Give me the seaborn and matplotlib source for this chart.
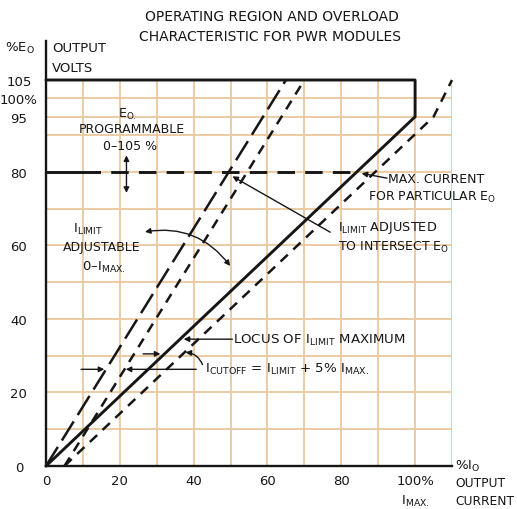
import matplotlib
matplotlib.use("Agg")
import matplotlib.pyplot as plt
import seaborn as sns

# operating region: top at 105 %, right edge at 100 % I_MAX, then locus of I_LIMIT maximum to origin
region_i = [0, 100, 100, 0]
region_e = [105, 105, 95, 0]

# I_LIMIT adjusted to intersect E0 = 80 % (long dash) and its cutoff (+5 % I_MAX, short dash)
limit_adj_i = [0, 65]
limit_adj_e = [0, 105]
cutoff_adj_i = [5, 70]
cutoff_adj_e = [0, 105]

# cutoff line belonging to the I_LIMIT maximum locus
cutoff_max_i = [5, 105, 110]
cutoff_max_e = [0, 95, 105]

# programmed output voltage E0 = 80 %
e0_solid_i = [0, 10]
e0_dash_i = [10, 84]
e0_e = [80, 80]

x_ticks = [0, 20, 40, 60, 80, 100]
x_labels = ["0", "20", "40", "60", "80", "100%"]
y_ticks = [0, 20, 40, 60, 80, 95, 100, 105]
y_labels = ["0", "20", "40", "60", "80", "95", "100%", "105"]
grid_x = [10, 20, 30, 40, 50, 60, 70, 80, 90, 100, 110]
grid_y = [10, 20, 30, 40, 50, 60, 70, 80, 90, 95, 100]

INK = "#161616"
GRID = "#ebc79c"

sns.set_style("white")
plt.rcParams["font.family"] = ["DejaVu Sans"]
plt.rcParams["mathtext.default"] = "regular"

fig = plt.figure(figsize=(5.17, 5.10), dpi=100)
ax = fig.add_axes([46 / 517, 43 / 510, 406 / 517, 386 / 510])
ax.set_xlim(0, 110)
ax.set_ylim(0, 105)

# graph paper grid
for gx in grid_x:
    ax.axvline(gx, color=GRID, lw=1.3, zorder=0)
for gy in grid_y:
    ax.axhline(gy, color=GRID, lw=1.3, zorder=0)

# curves
sns.lineplot(x=region_i, y=region_e, sort=False, estimator=None, color=INK, lw=2.1,
             clip_on=False, ax=ax)
sns.lineplot(x=limit_adj_i, y=limit_adj_e, sort=False, estimator=None, color=INK, lw=1.8,
             linestyle=(0, (9, 3)), ax=ax)
sns.lineplot(x=cutoff_adj_i, y=cutoff_adj_e, sort=False, estimator=None, color=INK, lw=1.8,
             linestyle=(0, (4, 3)), ax=ax)
sns.lineplot(x=cutoff_max_i, y=cutoff_max_e, sort=False, estimator=None, color=INK, lw=1.8,
             linestyle=(0, (4, 3)), clip_on=False, ax=ax)
sns.lineplot(x=e0_solid_i, y=e0_e, sort=False, estimator=None, color=INK, lw=2.1, ax=ax)
sns.lineplot(x=e0_dash_i, y=e0_e, sort=False, estimator=None, color=INK, lw=2.1,
             linestyle=(0, (6, 3.5)), ax=ax)

# axes
sns.despine(ax=ax, top=True, right=True)
ax.spines["left"].set_linewidth(1.7)
ax.spines["bottom"].set_linewidth(1.7)
ax.spines["left"].set_color(INK)
ax.spines["bottom"].set_color(INK)
ax.spines["left"].set_bounds(0, 115.5)

ax.set_xticks(x_ticks, x_labels)
ax.set_yticks(y_ticks, y_labels)
ax.tick_params(which="both", length=0, labelsize=9.5, colors=INK)
ax.tick_params(axis="x", pad=6)
ax.tick_params(axis="y", pad=19.5)
for lab in ax.get_yticklabels():
    lab.set_horizontalalignment("center")

fs = 9
arrow = dict(arrowstyle="-|>", color=INK, lw=1.0, mutation_scale=8, shrinkA=0, shrinkB=0)
arrow2 = dict(arrowstyle="<|-|>", color=INK, lw=1.0, mutation_scale=8, shrinkA=0, shrinkB=0)

# E0 programmable
ax.text(22, 95.8, "E$_{O.}$", ha="center", va="center", fontsize=fs, color=INK)
ax.text(23.3, 91.7, "PROGRAMMABLE", ha="center", va="center", fontsize=fs, color=INK)
ax.text(22.8, 87.2, "0\u2013105 %", ha="center", va="center", fontsize=fs, color=INK)
ax.annotate("", xy=(21.8, 84.5), xytext=(21.8, 74.3), arrowprops=arrow2)

# I_LIMIT adjustable
ax.text(11.4, 64.5, "I$_{LIMIT}$", ha="center", va="center", fontsize=9.5, color=INK)
ax.text(15.1, 59.6, "ADJUSTABLE", ha="center", va="center", fontsize=fs, color=INK)
ax.text(15.7, 54.3, "0\u2013I$_{MAX.}$", ha="center", va="center", fontsize=9.5, color=INK)
ax.annotate("", xy=(49.9, 54.4), xytext=(26.8, 63.7),
            arrowprops=dict(arrow2, connectionstyle="arc3,rad=-0.3"))

# max current for particular E0
ax.text(92.7, 78.3, "MAX. CURRENT", ha="left", va="center", fontsize=fs, color=INK)
ax.text(87.3, 73.2, "FOR PARTICULAR E$_O$", ha="left", va="center", fontsize=fs, color=INK)
ax.annotate("", xy=(85.5, 79.6), xytext=(92.4, 78.3), arrowprops=arrow)

# I_LIMIT adjusted to intersect E0
ax.text(79.1, 65.0, "I$_{LIMIT}$ ADJUSTED", ha="left", va="center", fontsize=9.3, color=INK)
ax.text(79.1, 59.6, "TO INTERSECT E$_O$", ha="left", va="center", fontsize=fs, color=INK)
ax.annotate("", xy=(50.5, 78.8), xytext=(77, 63.6), arrowprops=arrow)

# locus of I_LIMIT maximum
ax.text(50.8, 34.5, "LOCUS OF I$_{LIMIT}$ MAXIMUM", ha="left", va="center", fontsize=9.6,
        color=INK)
ax.annotate("", xy=(37.3, 34.5), xytext=(50.5, 34.5), arrowprops=arrow)

# cutoff relation
ax.text(43.2, 26.4, "I$_{CUTOFF}$ = I$_{LIMIT}$ + 5% I$_{MAX.}$", ha="left", va="center",
        fontsize=9.6, color=INK)
ax.annotate("", xy=(21.6, 26.3), xytext=(40.7, 26.3), arrowprops=arrow)
ax.annotate("", xy=(15.8, 26.3), xytext=(9.5, 26.3), arrowprops=arrow)
ax.annotate("", xy=(31.0, 30.5), xytext=(26.3, 30.5), arrowprops=arrow)
ax.annotate("", xy=(37.8, 30.9), xytext=(42.4, 27.6),
            arrowprops=dict(arrow, connectionstyle="arc3,rad=0.3"))

# titles and axis captions
fig.text(272 / 517, 1 - 17 / 510, "OPERATING REGION AND OVERLOAD", ha="center", va="center",
         fontsize=10, color=INK)
fig.text(270 / 517, 1 - 37 / 510, "CHARACTERISTIC FOR PWR MODULES", ha="center", va="center",
         fontsize=10, color=INK)
fig.text(20 / 517, 1 - 48 / 510, "%E$_O$", ha="center", va="center", fontsize=9.5, color=INK)
fig.text(52 / 517, 1 - 48 / 510, "OUTPUT", ha="left", va="center", fontsize=9.5, color=INK)
fig.text(52 / 517, 1 - 68 / 510, "VOLTS", ha="left", va="center", fontsize=9.5, color=INK)
fig.text(455 / 517, 1 - 466 / 510, "%I$_O$", ha="left", va="center", fontsize=9.5, color=INK)
fig.text(455 / 517, 1 - 484 / 510, "OUTPUT", ha="left", va="center", fontsize=8.8, color=INK)
fig.text(455 / 517, 1 - 502 / 510, "CURRENT", ha="left", va="center", fontsize=8.8, color=INK)
fig.text(415 / 517, 1 - 501 / 510, "I$_{MAX.}$", ha="center", va="center", fontsize=9.5, color=INK)

fig.savefig("out.png", dpi=100, facecolor="white")
